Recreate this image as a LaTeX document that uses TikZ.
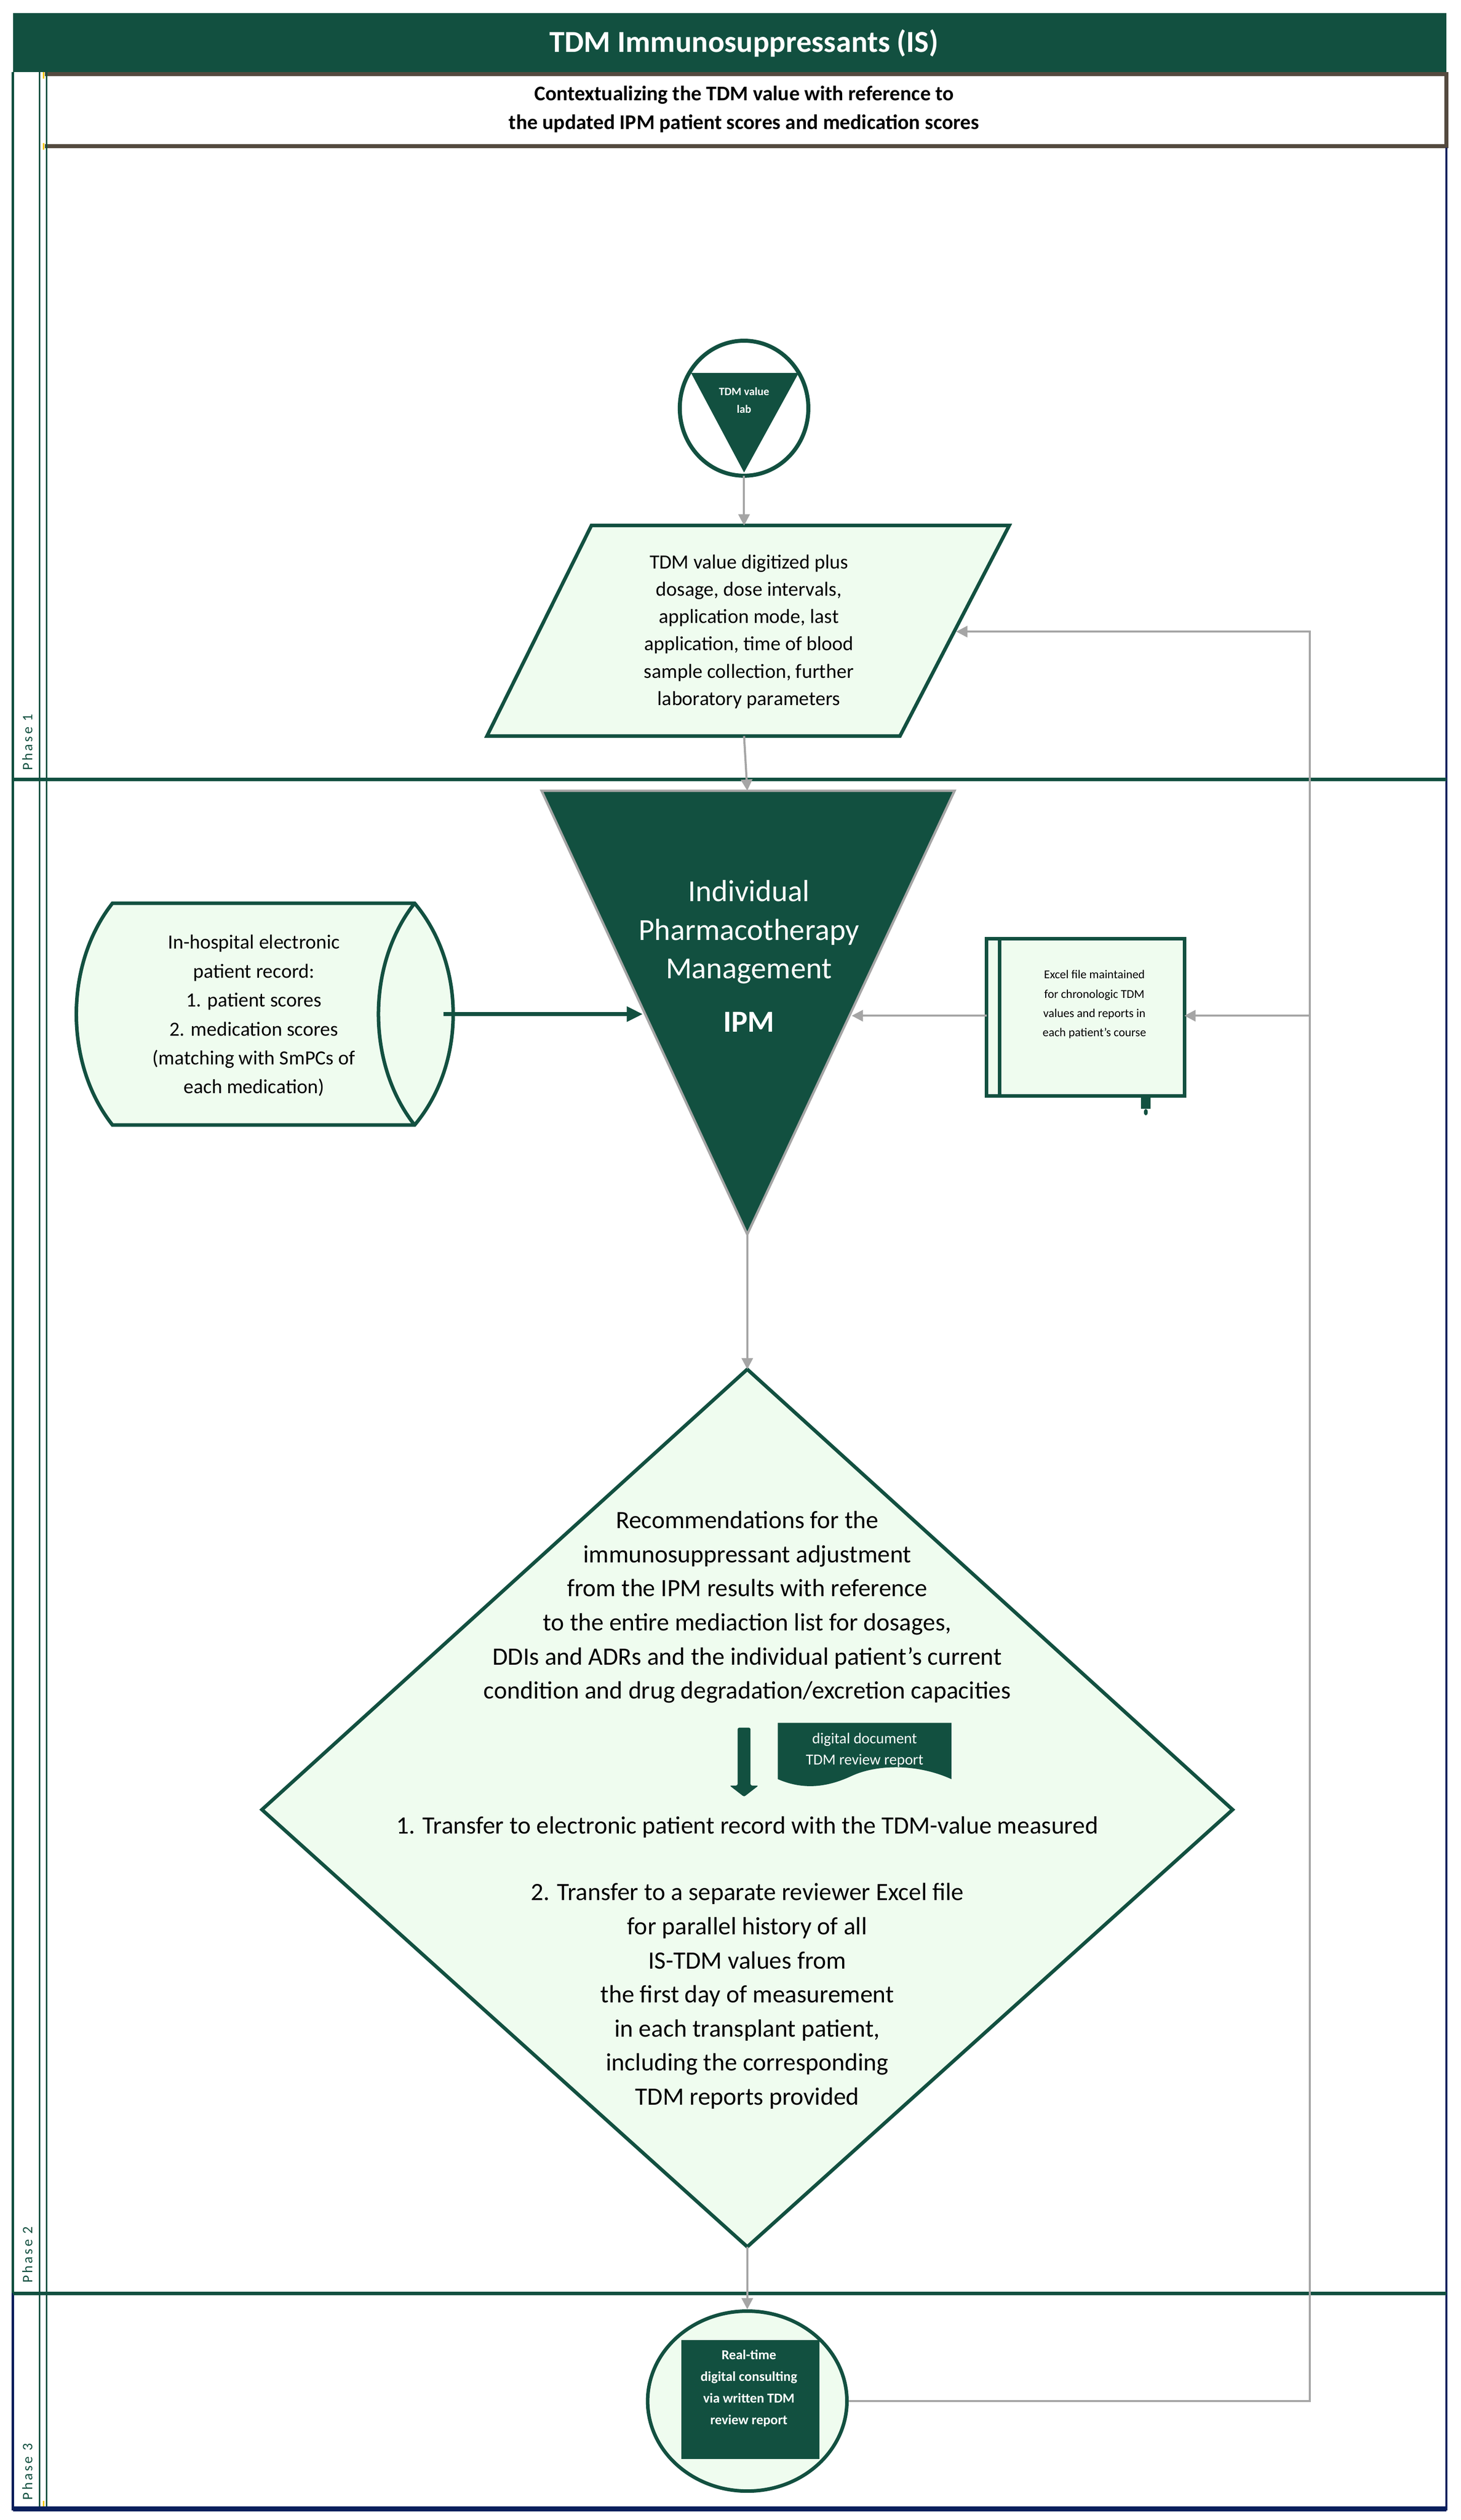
\documentclass[tikz,border=0pt]{standalone}
\usepackage{fontspec}
\setmainfont{Carlito}
\usetikzlibrary{arrows.meta,shapes.geometric}
\definecolor{dg}{HTML}{125040}
\definecolor{lf}{HTML}{EFFCEF}
\definecolor{gr}{HTML}{A5A5A5}
\definecolor{nv}{HTML}{0A1F5C}
\definecolor{br}{HTML}{544A3F}
\definecolor{yl}{HTML}{F2C500}
\tikzset{
  conn/.style={draw=gr,line width=1.3pt,-{Triangle[length=7pt,width=7pt]}},
  shp/.style={draw=dg,line width=2.2pt,fill=lf},
  txt/.style={align=center,inner sep=0pt},
  phase/.style={rotate=90,anchor=west,text=dg,font=\fontsize{9}{10}\selectfont\addfontfeature{LetterSpace=15}}
}
\begin{document}
\begin{tikzpicture}[x=1pt,y=-1pt]
\useasboundingbox (0,0) rectangle (909,1568);
% frame
\fill[dg] (8,8) rectangle (900,45);
\node[txt,text=white,font=\fontsize{19}{22}\selectfont\bfseries] (title) at (463,27) {TDM Immunosuppressants (IS)};
\draw[br,line width=2.5pt] (28,46) -- (900,46) -- (900,91) -- (28,91);
\node[txt,font=\fontsize{13}{18}\selectfont\bfseries] (sub) at (463,68) {Contextualizing the TDM value with reference to\\the updated IPM patient scores and medication scores};
\draw[dg,line width=1.3pt] (8,45) -- (8,1427);
\draw[nv,line width=1.3pt] (8,1427) -- (8,1562);
\draw[dg,line width=1pt] (24.5,45) -- (24.5,1562);
\draw[dg,line width=1pt] (29,45) -- (29,1562);
\draw[yl,line width=1pt] (27,45) -- (27,49) (27,89) -- (27,93) (27,1556) -- (27,1562);
\draw[nv,line width=1.3pt] (900,92) -- (900,1562);
\draw[nv,line width=3pt] (8,1561) -- (900,1561);
\draw[dg,line width=2pt] (8,485) -- (900,485);
\draw[dg,line width=2pt] (8,1427) -- (900,1427);
\node[phase] (p1) at (17,483) {Phase 1};
\node[phase] (p2) at (17,1424) {Phase 2};
\node[phase] (p3) at (17,1559) {Phase 3};
% TDM value lab
\node[ellipse,draw=dg,line width=2.5pt,minimum width=80pt,minimum height=84pt] (lab) at (463,254) {};
\fill[dg] (430,232) -- (497,232) -- (463,294) -- cycle;
\node[txt,text=white,font=\fontsize{7}{11}\selectfont\bfseries] (labt) at (463,249) {TDM value\\lab};
\coordinate (labb) at (463,296);
% parallelogram
\draw[shp] (368,327) -- (628,327) -- (560,458) -- (303,458) -- cycle;
\node[txt,font=\fontsize{12.5}{17}\selectfont] (para) at (466,393) {TDM value digitized plus\\dosage, dose intervals,\\application mode, last\\application, time of blood\\sample collection, further\\laboratory parameters};
\coordinate (parat) at (463,327);
\coordinate (parab) at (463,458);
\coordinate (parar) at (595,393);
% IPM triangle
\fill[dg] (337,492) -- (594,492) -- (465,768) -- cycle;
\draw[gr,line width=1.5pt] (337,492) -- (594,492) -- (465,768) -- cycle;
\node[txt,text=white,font=\fontsize{19}{24}\selectfont] (ipm) at (466,580) {Individual\\Pharmacotherapy\\Management};
\node[txt,text=white,font=\fontsize{19}{24}\selectfont\bfseries] (ipmb) at (466,636) {IPM};
\coordinate (ipmt) at (465,492);
\coordinate (ipmbot) at (465,768);
\coordinate (ipml) at (400,631);
\coordinate (ipmr) at (530,632);
% drum
\draw[shp] (70,562) -- (258,562) .. controls (290,600) and (290,662) .. (258,700) -- (70,700) .. controls (40,662) and (40,600) .. (70,562) -- cycle;
\draw[dg,line width=2.2pt] (258,562) .. controls (228,600) and (228,662) .. (258,700);
\node[txt,font=\fontsize{12.5}{18}\selectfont] (drum) at (158,632) {In-hospital electronic\\patient record:\\1. patient scores\\2. medication scores\\(matching with SmPCs of\\each medication)};
\coordinate (drumr) at (276,631);
\draw[dg,line width=2.5pt,-{Triangle[length=10pt,width=9pt]}] (drumr) -- (ipml);
% Excel
\draw[shp] (614,584) rectangle (737,682);
\draw[dg,line width=2.2pt] (622,584) -- (622,682);
\node[txt,font=\fontsize{7.5}{12}\selectfont] (excel) at (681,625) {Excel file maintained\\for chronologic TDM\\values and reports in\\each patient's course};
\fill[dg] (710,682) rectangle (716,690);
\draw[dg,line width=1pt] (711,682) arc (180:0:2);
\fill[dg] (713,692) ellipse (1.2 and 2);
\coordinate (excell) at (614,632);
\coordinate (excelr) at (737,632);
\draw[conn] (excell) -- (ipmr);
% Diamond
\draw[shp] (465,852) -- (767,1126) -- (465,1398) -- (163,1126) -- cycle;
\coordinate (diat) at (465,852);
\coordinate (diab) at (465,1398);
\node[txt,font=\fontsize{15.5}{21.2}\selectfont] (dia1) at (465,1000) {Recommendations for the\\immunosuppressant adjustment\\from the IPM results with reference\\to the entire mediaction list for dosages,\\DDIs and ADRs and the individual patient's current\\condition and drug degradation/excretion capacities};
\node[txt,font=\fontsize{15.5}{21.2}\selectfont] (dia2) at (465,1137) {1. Transfer to electronic patient record with the TDM-value measured};
\node[txt,font=\fontsize{15.5}{21.2}\selectfont] (dia3) at (465,1242) {2. Transfer to a separate reviewer Excel file\\for parallel history of all\\IS-TDM values from\\the first day of measurement\\in each transplant patient,\\including the corresponding\\TDM reports provided};
% down arrow + doc
\fill[dg,rounded corners=1pt] (459,1075) -- (467,1075) -- (467,1111) -- (472,1111) -- (463,1118) -- (454,1111) -- (459,1111) -- cycle;
\fill[dg] (484,1072) -- (592,1072) -- (592,1107) .. controls (570,1097) and (545,1098) .. (530,1105) .. controls (515,1112) and (500,1114) .. (484,1107) -- cycle;
\node[txt,text=white,font=\fontsize{9.5}{13}\selectfont] (doc) at (538,1089) {digital document\\TDM review report};
% bottom ellipse
\node[ellipse,shp,minimum width=124pt,minimum height=112pt] (cons) at (465,1494) {};
\fill[dg] (424,1456) rectangle (510,1530);
\node[txt,text=white,font=\fontsize{8.5}{13.5}\selectfont\bfseries] (const) at (466,1486) {Real-time\\digital consulting\\via written TDM\\review report};
% connectors
\draw[conn] (labb) -- (parat);
\draw[conn] (parab) -- (ipmt);
\draw[conn] (ipmbot) -- (diat);
\draw[conn] (diab) -- (cons.north);
\coordinate (rb) at (815,1494);
\coordinate (rm) at (815,632);
\coordinate (rt) at (815,393);
\draw[gr,line width=1.3pt] (cons.east) -- (rb) -- (rm);
\draw[conn] (rm) -- (rt) -- (parar);
\draw[conn] (rm) -- (excelr);
\end{tikzpicture}
\end{document}
